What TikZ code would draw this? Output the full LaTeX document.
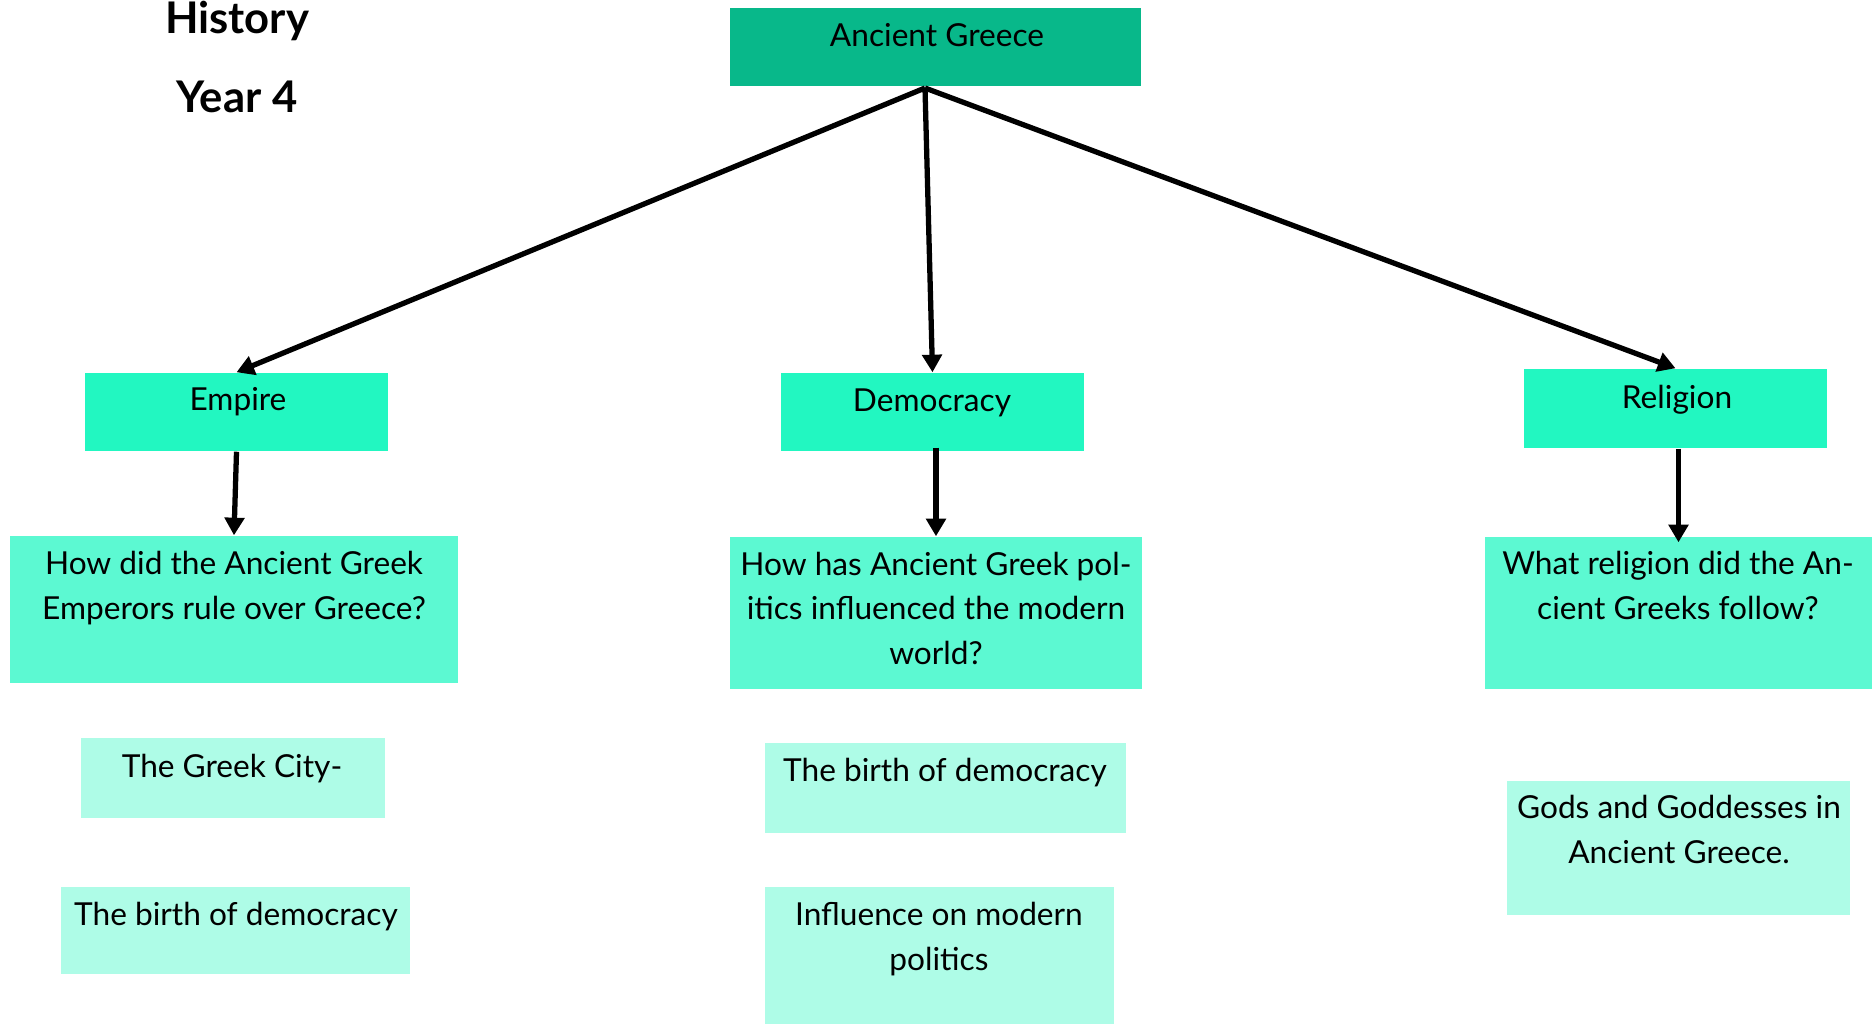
\documentclass[tikz,border=0pt]{standalone}
\usepackage{fontspec}
\setmainfont{Lato}
\usetikzlibrary{arrows.meta,positioning,calc}
\definecolor{greecegreen}{HTML}{08B88A}
\definecolor{topicgreen}{HTML}{22F7C1}
\definecolor{questgreen}{HTML}{5CF9D2}
\definecolor{subgreen}{HTML}{AEFCE7}
\begin{document}
\begin{tikzpicture}[x=0.01cm, y=-0.01cm,
    box/.style={rectangle, inner sep=0pt, draw=none},
    txt/.style={font=\fontsize{9}{12.6}\selectfont, align=center, inner sep=0pt, anchor=base},
    title/.style={font=\fontsize{12.4}{14}\selectfont\bfseries, anchor=base},
    link/.style={line width=1.5pt, -{Triangle[length=5pt,width=5.5pt]}}]
    \useasboundingbox (0,0) rectangle (1872,1024);

    % title
    \node[title] (history) at (237,33) {History};
    \node[title] (year) at (237,112) {Year 4};

    % main box and topics
    \node[box, fill=greecegreen, minimum width=4.11cm, minimum height=0.78cm] (greece) at (935.5,47) {};
    \node[box, fill=topicgreen, minimum width=3.03cm, minimum height=0.78cm] (empire) at (236.5,412) {};
    \node[box, fill=topicgreen, minimum width=3.03cm, minimum height=0.78cm] (democracy) at (932.5,412) {};
    \node[box, fill=topicgreen, minimum width=3.03cm, minimum height=0.79cm] (religion) at (1675.5,408.5) {};

    % questions
    \node[box, fill=questgreen, minimum width=4.48cm, minimum height=1.47cm] (q1) at (234,609.5) {};
    \node[box, fill=questgreen, minimum width=4.12cm, minimum height=1.52cm] (q2) at (936,613) {};
    \node[box, fill=questgreen, minimum width=3.87cm, minimum height=1.52cm] (q3) at (1678.5,613) {};

    % lessons
    \node[box, fill=subgreen, minimum width=3.04cm, minimum height=0.80cm] (city) at (233,778) {};
    \node[box, fill=subgreen, minimum width=3.49cm, minimum height=0.87cm] (birtha) at (235.5,930.5) {};
    \node[box, fill=subgreen, minimum width=3.61cm, minimum height=0.90cm] (birthb) at (945.5,788) {};
    \node[box, fill=subgreen, minimum width=3.49cm, minimum height=1.37cm] (influence) at (939.5,955.5) {};
    \node[box, fill=subgreen, minimum width=3.43cm, minimum height=1.34cm] (gods) at (1678.5,848) {};

    % texts (base = last line)
    \node[txt] (greecelbl) at (937,46) {Ancient Greece};
    \node[txt] (empirelbl) at (238,410) {Empire};
    \node[txt] (democracylbl) at (932,411) {Democracy};
    \node[txt] (religionlbl) at (1677,408) {Religion};
    \node[txt] (q1lbl) at (234,619) {How did the Ancient Greek\\Emperors rule over Greece?};
    \node[txt] (q2lbl) at (936,664) {How has Ancient Greek pol-\\itics influenced the modern\\world?};
    \node[txt] (q3lbl) at (1678,619) {What religion did the An-\\cient Greeks follow?};
    \node[txt] (citylbl) at (232,777) {The Greek City-};
    \node[txt] (birthalbl) at (236,925) {The birth of democracy};
    \node[txt] (birthblbl) at (945,781) {The birth of democracy};
    \node[txt] (influencelbl) at (939,970) {Influence on modern\\politics};
    \node[txt] (godslbl) at (1679,863) {Gods and Goddesses in\\Ancient Greece.};

    % arrows
    \coordinate (hub) at (925,88);
    \draw[link] (hub) -- (empire.north);
    \draw[link] (hub) -- (democracy.north);
    \draw[link] (hub) -- (religion.north);
    \draw[link] (empire.south) -- (q1.north);
    \draw[link] ([yshift=0.04cm]democracy.south -| q2.north) -- (q2.north);
    \draw[link] (religion.south -| q3.north) -- ([yshift=-0.06cm]q3.north);
\end{tikzpicture}
\end{document}
